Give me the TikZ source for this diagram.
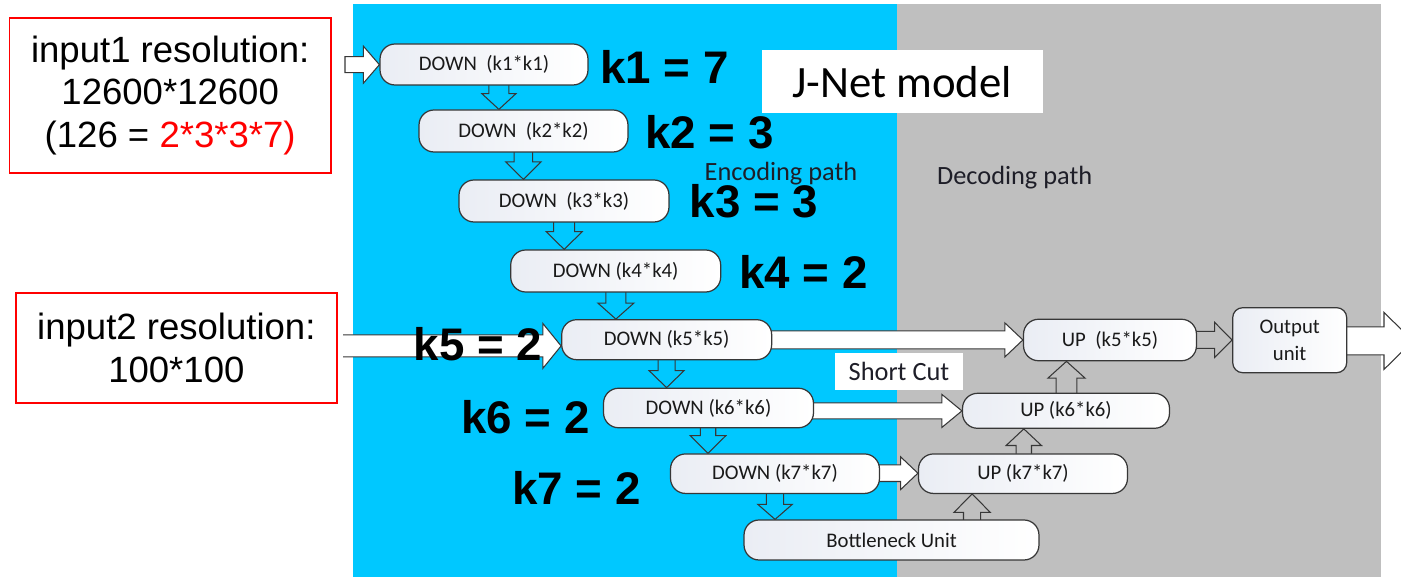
\documentclass[tikz,border=0pt]{standalone}
\usepackage{fontspec}
\setmainfont{Liberation Sans}
\newfontfamily\carl{Carlito}
\usetikzlibrary{calc}
\definecolor{encblue}{RGB}{0,200,255}
\definecolor{decgray}{RGB}{191,191,191}
\definecolor{edgec}{RGB}{55,55,55}
\definecolor{nodeL}{RGB}{234,237,244}
\definecolor{labc}{RGB}{30,30,40}
\definecolor{redc}{RGB}{255,0,0}
\pgfdeclarelayer{back}
\pgfdeclarelayer{mid}
\pgfsetlayers{back,mid,main}
\def\pxu{0.56906pt}
% horizontal block arrow: [options] from, to, y(px), shaft half, head half, head length
\newcommand\hbarrow[7][]{%
  \draw[blockarrow,#1] let \p1=(#2), \p2=(#3) in
    (\x1,{-(#4-#5)*\pxu}) -- ({\x2-#7*\pxu},{-(#4-#5)*\pxu}) -- ({\x2-#7*\pxu},{-(#4-#6)*\pxu})
    -- (\x2,{-#4*\pxu}) -- ({\x2-#7*\pxu},{-(#4+#6)*\pxu}) -- ({\x2-#7*\pxu},{-(#4+#5)*\pxu})
    -- (\x1,{-(#4+#5)*\pxu});}
\newcommand\hbarrowclosed[6]{%
  \draw[blockarrow] let \p1=(#1), \p2=(#2) in
    (\x1,{-(#3-#4)*\pxu}) -- ({\x2-#6*\pxu},{-(#3-#4)*\pxu}) -- ({\x2-#6*\pxu},{-(#3-#5)*\pxu})
    -- (\x2,{-#3*\pxu}) -- ({\x2-#6*\pxu},{-(#3+#5)*\pxu}) -- ({\x2-#6*\pxu},{-(#3+#4)*\pxu})
    -- (\x1,{-(#3+#4)*\pxu}) -- cycle;}
% vertical block arrow (outline only): from, to, x(px), shaft half, head half, signed head length (+ down)
\newcommand\vbarrow[6]{%
  \draw[blockarrow, fill=none] let \p1=(#1), \p2=(#2) in
    ({(#3-#4)*\pxu},\y1) -- ({(#3-#4)*\pxu},{\y2+(#6)*\pxu}) -- ({(#3-#5)*\pxu},{\y2+(#6)*\pxu})
    -- ({#3*\pxu},\y2) -- ({(#3+#5)*\pxu},{\y2+(#6)*\pxu}) -- ({(#3+#4)*\pxu},{\y2+(#6)*\pxu})
    -- ({(#3+#4)*\pxu},\y1);}
\tikzset{
  blockarrow/.style={draw=edgec, fill=white, line width=0.6pt, line join=miter},
  unit/.style={draw=edgec, line width=0.7pt, rounded corners=0.3cm, left color=nodeL, right color=white,
    font=\carl\fontsize{11.8}{14}\selectfont, text=black!90, inner sep=0pt},
  redbox/.style={draw=redc, line width=0.9pt, align=center, inner sep=0pt,
    font=\fontsize{20.8}{24.2}\selectfont},
  klab/.style={font=\bfseries\fontsize{26}{30}\selectfont, inner sep=0pt, anchor=west},
  pathlab/.style={font=\carl\fontsize{15}{18}\selectfont, text=labc, inner sep=0pt},
}
\begin{document}
\begin{tikzpicture}[x=0.02cm, y=-0.02cm]
\useasboundingbox (0,0) rectangle (1401,577);
\begin{pgfonlayer}{back}
  \fill[encblue] (352.7,4) rectangle (897,577);
  \fill[decgray] (897,4) rectangle (1381,577);
\end{pgfonlayer}

% input boxes
\node[redbox, minimum width=6.434cm, minimum height=3.112cm] (r1) at (170.2,95.5)
  {input1 resolution:\\12600*12600\\(126 = \textcolor{redc}{2*3*3*7)}};
\node[redbox, minimum width=6.426cm, minimum height=2.2cm] (r2) at (176.35,348)
  {input2 resolution:\\100*100};

% labels
\node[fill=white, minimum width=5.62cm, minimum height=1.266cm, inner sep=0pt,
  font=\carl\fontsize{25.5}{30}\selectfont] (title) at (902.2,81.7) {J-Net model};
\node[pathlab] (enc) at (781,174) {Encoding path};
\node[pathlab] (dec) at (1014.7,177.5) {Decoding path};
\node[fill=white, minimum width=2.57cm, minimum height=0.734cm, inner sep=0pt,
  font=\carl\fontsize{15}{18}\selectfont, text=labc] (sc) at (899,371.7) {Short Cut};

% encoder units
\node[unit, minimum width=4.16cm, minimum height=0.82cm] (d1) at (484,64.5) {DOWN\ \ (k1*k1)};
\node[unit, minimum width=4.18cm, minimum height=0.84cm] (d2) at (523.5,131) {DOWN\ \ (k2*k2)};
\node[unit, minimum width=4.2cm, minimum height=0.84cm] (d3) at (564,201) {DOWN\ \ (k3*k3)};
\node[unit, minimum width=4.2cm, minimum height=0.84cm] (d4) at (615.7,271) {DOWN (k4*k4)};
\node[unit, minimum width=4.2cm, minimum height=0.8cm] (d5) at (666.7,339.7) {DOWN (k5*k5)};
\node[unit, minimum width=4.2cm, minimum height=0.79cm] (d6) at (708.5,408) {DOWN (k6*k6)};
\node[unit, minimum width=4.18cm, minimum height=0.79cm] (d7) at (775,473.7) {DOWN (k7*k7)};
\node[unit, minimum width=5.9cm, minimum height=0.8cm] (bn) at (891.5,540) {Bottleneck Unit};
% decoder units
\node[unit, minimum width=4.18cm, minimum height=0.79cm] (u7) at (1023,473.7) {UP (k7*k7)};
\node[unit, minimum width=4.14cm, minimum height=0.7cm] (u6) at (1066,410.8) {UP (k6*k6)};
\node[unit, minimum width=3.46cm, minimum height=0.83cm] (u5) at (1110,340) {UP\ \ (k5*k5)};
\node[unit, rounded corners=0.2cm, minimum width=2.28cm, minimum height=1.3cm, align=center,
  font=\carl\fontsize{11.8}{15.5}\selectfont] (out) at (1289.7,340.2) {Output\\unit};

% k labels
\node[klab] (k1) at (600,67) {k1 = 7};
\node[klab] (k2) at (645,132) {k2 = 3};
\node[klab] (k3) at (689.3,201.5) {k3 = 3};
\node[klab] (k4) at (739,272) {k4 = 2};
\node[klab] (k5) at (413.3,344) {k5 = 2};
\node[klab] (k6) at (461,417) {k6 = 2};
\node[klab] (k7) at (512,488) {k7 = 2};

\coordinate (in1s) at (345,64.7);
\coordinate (in2s) at (343,346);
\coordinate (otip) at (1413,341);

\begin{pgfonlayer}{mid}
  \hbarrowclosed{in1s}{d1.west}{64.7}{8}{18.5}{16}
  \hbarrow{in2s}{d5.west}{346}{11}{22.5}{18.3}
  \hbarrow{$(d5.east)+(-8,0)$}{u5.west}{340}{9}{17}{18}
  \hbarrow{$(d6.east)+(-8,0)$}{u6.west}{411}{8}{16.5}{20}
  \hbarrow{$(d7.east)+(-8,0)$}{u7.west}{473.3}{8.3}{16.3}{17.2}
  \hbarrow[fill=none]{$(u5.east)+(-8,0)$}{out.west}{340}{8.5}{17.5}{17.4}
  \hbarrow{$(out.east)+(-8,0)$}{otip}{341}{14}{28.5}{29}
  \vbarrow{$(d1.south)+(0,-6)$}{d2.north}{499}{10}{17}{15.7}
  \vbarrow{$(d2.south)+(0,-6)$}{d3.north}{523.5}{9.2}{17.8}{17.6}
  \vbarrow{$(d3.south)+(0,-6)$}{d4.north}{564.3}{10.5}{18}{17.7}
  \vbarrow{$(d4.south)+(0,-6)$}{d5.north}{616}{10}{18}{16}
  \vbarrow{$(d5.south)+(0,-6)$}{d6.north}{666.7}{8.5}{17.5}{17}
  \vbarrow{$(d6.south)+(0,-6)$}{d7.north}{708.2}{7.7}{17.8}{17.7}
  \vbarrow{$(d7.south)+(0,-6)$}{bn.north}{775.2}{8.6}{17.2}{15}
  \vbarrow{$(bn.north)+(0,6)$}{u7.south}{972.3}{8.6}{18.2}{-18.3}
  \vbarrow{$(u7.north)+(0,6)$}{u6.south}{1024}{7.7}{17.7}{-16.6}
  \vbarrow{$(u6.north)+(0,6)$}{u5.south}{1066.7}{10.3}{18.5}{-16.7}
\end{pgfonlayer}
\end{tikzpicture}
\end{document}
